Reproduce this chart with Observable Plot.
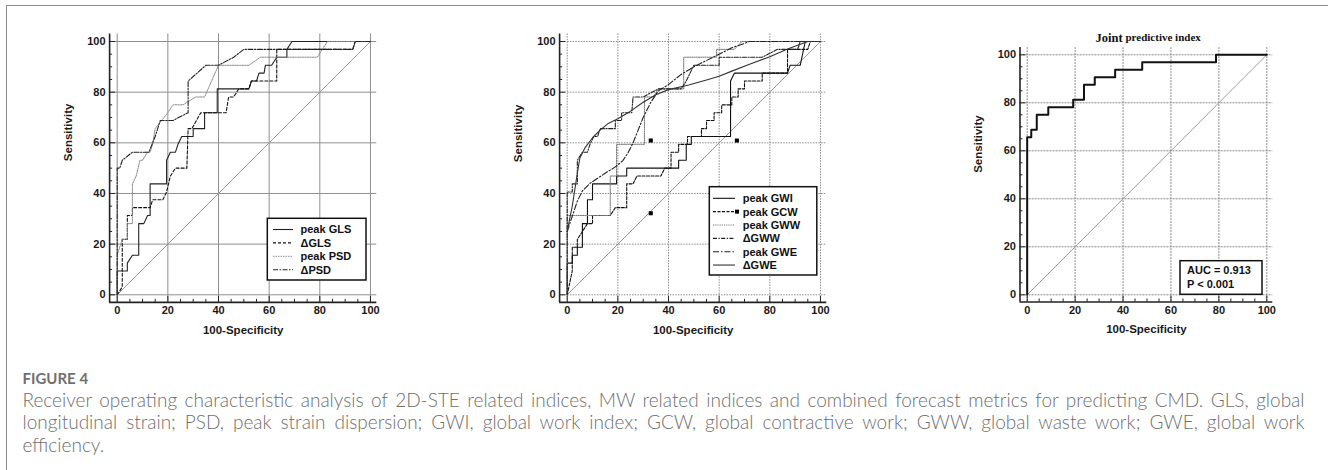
<!DOCTYPE html>
<html>
<head>
<meta charset="utf-8">
<script src="https://cdn.jsdelivr.net/npm/d3@7"></script>
<script src="https://cdn.jsdelivr.net/npm/@observablehq/plot@0.6"></script>
<style>
html,body{margin:0;padding:0;background:#fff;}
#page{position:relative;width:1328px;height:470px;overflow:hidden;background:#fff;}
#border{position:absolute;left:6px;top:5px;width:1330px;height:470px;border-left:1px solid #8c8c8c;border-top:1px solid #8c8c8c;}
.cap{position:absolute;left:22.5px;white-space:nowrap;font-family:Lato,"Open Sans",sans-serif;color:#6e6e6e;}
#fig{top:367.5px;font-size:15px;line-height:20px;font-weight:bold;color:#707070;}
.line{font-size:18px;line-height:22.4px;font-weight:300;}
</style>
</head>
<body>
<div id="page">
  <div id="border"></div>
</div>
<script>
// ---------- data ----------
const majorTicks = [0, 20, 40, 60, 80, 100];
const minorTicks = [5, 10, 15, 25, 30, 35, 45, 50, 55, 65, 70, 75, 85, 90, 95];
const diagonal = [[0, 0], [100, 100]];

// Panel A: 2D-STE indices (100-Specificity, Sensitivity)
const peakGLS = [[0,0],[0,9.4],[4,9.4],[4,12.5],[6,15.6],[8.5,15.6],[8.5,28.1],[10.5,28.1],[12,31.3],[13,31.3],[13,43.8],[19.5,43.8],[19.5,53.1],[21,56.3],[23,56.3],[24,59.4],[25.5,62.5],[30,62.5],[30,65.6],[34.5,65.6],[34.5,71.9],[39.5,71.9],[39.5,81.3],[52,81.3],[53,84.4],[55,84.4],[56,87.5],[58,87.5],[58.5,90.6],[61,90.6],[63,93.8],[67,93.8],[67,96.9],[69,100],[100,100]];
const deltaGLS = [[0,0],[2,3.1],[2,21.9],[4,21.9],[4,31.3],[6,31.3],[6,34.4],[13,34.4],[14,37.5],[18,37.5],[19.5,40.6],[21,46.9],[23,50],[27.5,50],[28,65.6],[29.5,65.6],[33,71.9],[43,71.9],[44,78.1],[46,78.1],[48,81.3],[52,81.3],[53,84.4],[63,84.4],[63,96.9],[93,96.9],[94,100],[100,100]];
const peakPSD = [[0,0],[0,15.6],[1,18.8],[2,21.9],[4,21.9],[4,28.1],[6,28.1],[6,43.8],[7.5,46.9],[9,53.1],[10,53.1],[12,56.3],[13,56.3],[14,59.4],[15,65.6],[20,71.9],[22,75],[26,75],[31,78.1],[34.5,78.1],[40,90.6],[52,90.6],[56.5,93.8],[79,93.8],[83,100],[100,100]];
const deltaPSD = [[0,0],[0,50],[1,50],[2,53.1],[4,54.7],[6,56.3],[12.5,56.3],[15,62.5],[17,68.8],[22,68.8],[28,71.9],[28,84.4],[35,90.6],[40,90.6],[46,93.8],[50,96.9],[93,96.9],[94,100],[100,100]];

// Panel B: MW indices
const peakGWI = [[0,0],[0,12.5],[2,12.5],[2,15.6],[4,15.6],[4,18.8],[6,18.8],[6,28.1],[8,28.1],[8,37.5],[10,37.5],[10,43.8],[19.5,43.8],[19.5,46.9],[23.5,46.9],[23.5,50],[44,50],[44,53.1],[47,53.1],[47,59.4],[49,59.4],[49,62.5],[64.5,62.5],[64.5,84.4],[66,87.5],[87,87.5],[88,90.6],[92,90.6],[94,100],[100,100]];
const peakGCW = [[0,0],[2,9.4],[2,18.8],[4,18.8],[4,21.9],[6,25],[8,28.1],[10,28.1],[10,31.3],[17,31.3],[19,34.4],[23.5,34.4],[23.5,43.8],[26,43.8],[27.5,46.9],[37,46.9],[38.5,50],[41,50],[41,56.3],[44,56.3],[44,59.4],[47.5,59.4],[47.5,62.5],[53,62.5],[53,65.6],[55,65.6],[55,68.8],[58,68.8],[58,71.9],[61,71.9],[61,75],[65,75],[65,78.1],[67.5,78.1],[67.5,81.3],[70,81.3],[70,84.4],[77,84.4],[77,87.5],[87,87.5],[87,96.9],[95,96.9],[96,100],[100,100]];
const peakGWW = [[0,0],[0,31.3],[17,31.3],[17,46.9],[19.5,46.9],[19.5,59.4],[30.5,59.4],[30.5,78.1],[34,78.1],[36,81.3],[46,81.3],[46,93.8],[59,93.8],[59,96.9],[66,96.9],[69,100],[100,100]];
const deltaGWW = [[0,0],[0,40.6],[2,40.6],[2,43.8],[4,43.8],[4,53.1],[6,56.3],[8,56.3],[9,59.4],[10.5,62.5],[12,62.5],[13,65.6],[19,65.6],[19,68.8],[21.5,68.8],[21.5,71.9],[25.5,71.9],[26,78.1],[30,78.1],[36,81.3],[45,81.3],[47,84.4],[50,90.6],[60,90.6],[60,93.8],[77,93.8],[83,96.9],[91,96.9],[92,100],[100,100]];
const peakGWE = [[0,25],[2,31],[4,37],[6,41],[9,44],[12,46],[15,48],[19,50.5],[22,53],[24,56],[26,60],[28,65],[30,70],[33,76],[36,80.5],[40,83],[45,87],[50,90],[55,92.5],[60,95],[65,97.5],[72,100],[100,100]];
const deltaGWE = [[0,25],[2,35],[4,48],[5,54],[7,58],[10,62],[13,65],[16,67.5],[20,69.5],[25,72.5],[30,76],[35,79],[40,81],[48,82.8],[55,84.8],[60,86.3],[65,88.3],[72,91],[80,94],[87,97],[95,100],[100,100]];
const gcwPoints = [[33,60.9],[67,60.9],[33,32.2]];

// Panel C: joint predictive index
const jointIndex = [[0,0],[0,65.6],[1.7,65.6],[1.7,68.8],[4,68.8],[4,75],[8.8,75],[8.8,78.1],[19.2,78.1],[19.2,81.3],[23.7,81.3],[23.7,87.5],[28.2,87.5],[28.2,90.6],[36.7,90.6],[36.7,93.8],[48,93.8],[48,96.9],[78.8,96.9],[78.8,100],[100,100]];
const aucText = ["AUC = 0.913", "P < 0.001"];

// ---------- styles ----------
const seriesA = [
  {label: "peak GLS", data: peakGLS, stroke: "#222", width: 1.1, dash: null},
  {label: "\u0394GLS", data: deltaGLS, stroke: "#111", width: 1.1, dash: "3,2"},
  {label: "peak PSD", data: peakPSD, stroke: "#8c8c8c", width: 1, dash: "1.5,1"},
  {label: "\u0394PSD", data: deltaPSD, stroke: "#222", width: 1.1, dash: "5,1.5,1.5,1.5"}
];
const seriesB = [
  {label: "peak GWI", data: peakGWI, stroke: "#111", width: 1.1, dash: null},
  {label: "peak GCW", data: peakGCW, stroke: "#111", width: 1.1, dash: "3,1.5", marker: true},
  {label: "peak GWW", data: peakGWW, stroke: "#777", width: 1, dash: "1.2,1"},
  {label: "\u0394GWW", data: deltaGWW, stroke: "#222", width: 1.1, dash: "4,1.5,1.2,1.5"},
  {label: "peak GWE", data: peakGWE, stroke: "#222", width: 1.1, dash: "6,2,1.5,2"},
  {label: "\u0394GWE", data: deltaGWE, stroke: "#333", width: 1.1, dash: null}
];
const seriesC = [
  {label: "Joint predictive index", data: jointIndex, stroke: "#111", width: 2, dash: null}
];

const page = document.getElementById("page");
const FONT = "'Liberation Sans', Arial, sans-serif";

function rocPanel(cfg) {
  const fw = cfg.width - cfg.mL - cfg.mR;
  const fh = cfg.height - cfg.mT - cfg.mB;
  const marks = [
    Plot.ruleX(majorTicks, {stroke: cfg.grid, strokeWidth: 1, strokeDasharray: cfg.gridDash}),
    Plot.ruleY(majorTicks, {stroke: cfg.grid, strokeWidth: 1, strokeDasharray: cfg.gridDash}),
    Plot.line(diagonal, {stroke: "#9a9a9a", strokeWidth: 1}),
    ...cfg.series.map(s => Plot.line(s.data, {stroke: s.stroke, strokeWidth: s.width, strokeDasharray: s.dash || undefined})),
  ];
  if (cfg.points) marks.push(Plot.dot(cfg.points, {symbol: "square", r: 2.3, fill: "#000", stroke: "none"}));
  marks.push(
    Plot.ruleX([cfg.xDomain[0]], {stroke: "#222", strokeWidth: 1.6}),
    Plot.ruleY([cfg.yDomain[0]], {stroke: "#222", strokeWidth: 1.6}),
    Plot.ruleX(majorTicks, {stroke: "#222", insetTop: fh - 6}),
    Plot.ruleX(minorTicks, {stroke: "#222", insetTop: fh - 3}),
    Plot.ruleY(majorTicks, {stroke: "#222", insetRight: fw - 6}),
    Plot.ruleY(minorTicks, {stroke: "#222", insetRight: fw - 3}),
    Plot.axisX({ticks: majorTicks, tickSize: 0, tickPadding: 4, label: null, fill: "#1a1a1a"}),
    Plot.axisY({ticks: majorTicks, tickSize: 0, tickPadding: 4, label: null, fill: "#1a1a1a"}),
    Plot.text(["Sensitivity"], {frameAnchor: "left", lineAnchor: "middle", dx: cfg.ylabDx, dy: cfg.ylabDy, rotate: -90, fontSize: 11.5, fontWeight: "bold", fill: "#1a1a1a"}),
    Plot.text(["100-Specificity"], {frameAnchor: "bottom", lineAnchor: "middle", dy: 27.5, fontSize: 11.5, fontWeight: "bold", fill: "#1a1a1a"})
  );
  if (cfg.title) {
    marks.push(
      Plot.text([cfg.title[0]], {frameAnchor: "top", lineAnchor: "middle", dx: cfg.titleDx[0], dy: -10, textAnchor: "start", fontFamily: "'Liberation Serif', 'Times New Roman', serif", fontSize: 12.5, fontWeight: "bold", fill: "#111"}),
      Plot.text([cfg.title[1]], {frameAnchor: "top", lineAnchor: "middle", dx: cfg.titleDx[1], dy: -10, textAnchor: "start", fontFamily: "'Liberation Serif', 'Times New Roman', serif", fontSize: 11, fontWeight: "bold", fill: "#111"})
    );
  }
  const svg = Plot.plot({
    width: cfg.width, height: cfg.height,
    marginLeft: cfg.mL, marginRight: cfg.mR, marginTop: cfg.mT, marginBottom: cfg.mB,
    x: {domain: cfg.xDomain},
    y: {domain: cfg.yDomain},
    style: {fontFamily: FONT, fontSize: "11px", fontWeight: "bold", background: "transparent", overflow: "visible", color: "#1a1a1a"},
    marks
  });
  svg.style.position = "absolute";
  svg.style.left = cfg.left + "px";
  svg.style.top = "0px";
  page.appendChild(svg);
}

rocPanel({left: 0, width: 440, height: 345, mL: 109.1, mR: 63.7, mT: 33.4, mB: 43.1,
  xDomain: [-3, 102.5], yDomain: [-3, 103], grid: "#8f8f8f", gridDash: null,
  series: seriesA, ylabDx: -40.8, ylabDy: -7});
rocPanel({left: 450, width: 440, height: 345, mL: 109.1, mR: 63.7, mT: 33.4, mB: 43.1,
  xDomain: [-3, 102.5], yDomain: [-3, 103], grid: "#8a8a8a", gridDash: "1.5,1.2",
  series: seriesB, points: gcwPoints, ylabDx: -40.8, ylabDy: -6});
rocPanel({left: 900, width: 430, height: 345, mL: 119.5, mR: 57.7, mT: 47.1, mB: 43.5,
  xDomain: [-3, 102.5], yDomain: [-3, 103], grid: "#8a8a8a", gridDash: "2,1",
  series: seriesC, ylabDx: -42, ylabDy: -2,
  title: ["Joint", "predictive index"], titleDx: [-50.9, -20.9]});

// ---------- legends (overlay) ----------
const ov = d3.select(page).append("svg")
  .attr("width", 1328).attr("height", 470)
  .style("position", "absolute").style("left", 0).style("top", 0)
  .style("font-family", FONT).style("font-size", "11px").style("font-weight", "bold");

function legend(series, box, rowY, step, sx1, sx2, tx) {
  ov.append("rect").attr("x", box[0]).attr("y", box[1]).attr("width", box[2]).attr("height", box[3])
    .attr("fill", "#fff").attr("stroke", "#111").attr("stroke-width", 1.5);
  series.forEach((s, i) => {
    const y = rowY + i * step;
    ov.append("line").attr("x1", sx1).attr("x2", sx2).attr("y1", y).attr("y2", y)
      .attr("stroke", s.stroke).attr("stroke-width", s.width).attr("stroke-dasharray", s.dash);
    if (s.marker) ov.append("rect").attr("x", sx2).attr("y", y - 2).attr("width", 4).attr("height", 4).attr("fill", "#000");
    ov.append("text").attr("x", tx).attr("y", y).attr("dy", "0.35em").attr("fill", "#111").text(s.label);
  });
}
legend(seriesA, [267.3, 218.3, 98.7, 61.7], 229.5, 13.4, 273, 293, 300.5);
legend(seriesB, [709.3, 186.7, 107.5, 88.3], 198.3, 13.35, 713, 735, 742.7);

ov.append("rect").attr("x", 1180).attr("y", 260.7).attr("width", 82).attr("height", 33.6)
  .attr("fill", "#fff").attr("stroke", "#111").attr("stroke-width", 1.5);
aucText.forEach((t, i) => ov.append("text").attr("x", 1187).attr("y", 270.5 + i * 13.6).attr("dy", "0.35em").attr("fill", "#111").text(t));

// ---------- caption ----------
const captionTitle = "FIGURE 4";
const captionLines = [
  "Receiver operating characteristic analysis of 2D-STE related indices, MW related indices and combined forecast metrics for predicting CMD. GLS, global",
  "longitudinal strain; PSD, peak strain dispersion; GWI, global work index; GCW, global contractive work; GWW, global waste work; GWE, global work",
  "efficiency."
];
const fig = document.createElement("div");
fig.className = "cap"; fig.id = "fig"; fig.textContent = captionTitle;
page.appendChild(fig);
const TARGET = 1282;
const lineEls = captionLines.map((t, i) => {
  const d = document.createElement("div");
  d.className = "cap line";
  d.style.top = (389 + i * 22.4) + "px";
  d.textContent = t;
  page.appendChild(d);
  return d;
});
// fit font so the longest justified line fits, then justify via word spacing
let maxW = Math.max(lineEls[0].getBoundingClientRect().width, lineEls[1].getBoundingClientRect().width);
let fs = Math.max(15, Math.min(19, 18 * (TARGET * 0.985) / maxW));
lineEls.forEach(d => d.style.fontSize = fs + "px");
[0, 1].forEach(i => {
  const d = lineEls[i];
  const w = d.getBoundingClientRect().width;
  const spaces = (captionLines[i].match(/ /g) || []).length;
  d.style.wordSpacing = ((TARGET - w) / spaces) + "px";
});
</script>
</body>
</html>
